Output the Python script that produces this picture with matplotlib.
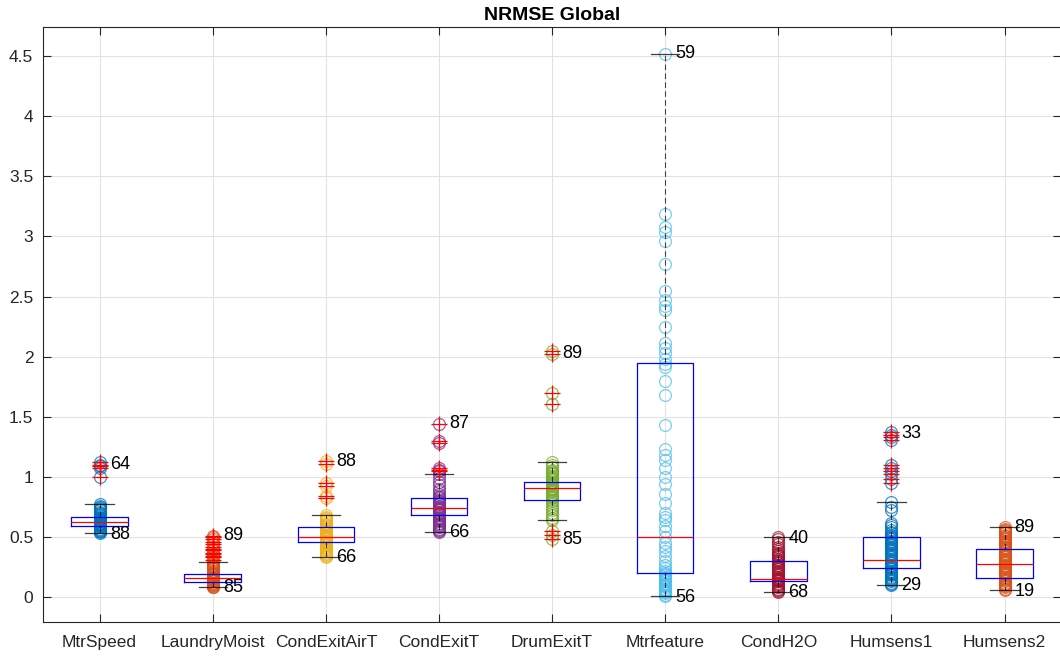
import numpy as np
import matplotlib
matplotlib.use("Agg")
import matplotlib.pyplot as plt

plt.rcParams.update({'font.family': 'Liberation Sans'})

# category names
categories = ["MtrSpeed", "LaundryMoist", "CondExitAirT", "CondExitT", "DrumExitT",
              "Mtrfeature", "CondH2O", "Humsens1", "Humsens2"]

# MATLAB default color order, one per category
point_colors = ["#0072BD", "#D95319", "#EDB120", "#7E2F8E", "#77AC30",
                "#4DBEEE", "#A2142F", "#0072BD", "#D95319"]

# NRMSE values per signal
mtr_speed = [0.53, 0.54, 0.55, 0.55, 0.56, 0.57, 0.58, 0.58, 0.59, 0.59, 0.60, 0.60,
             0.61, 0.61, 0.62, 0.62, 0.62, 0.63, 0.63, 0.63, 0.64, 0.64, 0.65, 0.65,
             0.66, 0.66, 0.67, 0.68, 0.69, 0.70, 0.71, 0.72, 0.73, 0.74, 0.75, 0.76,
             0.77, 1.00, 1.07, 1.09, 1.10, 1.12]
laundry_moist = [0.08, 0.08, 0.09, 0.10, 0.10, 0.11, 0.12, 0.12, 0.13, 0.13, 0.14, 0.14,
                 0.15, 0.15, 0.16, 0.16, 0.16, 0.17, 0.17, 0.18, 0.18, 0.19, 0.19, 0.20,
                 0.21, 0.22, 0.23, 0.24, 0.25, 0.26, 0.27, 0.28, 0.29, 0.31, 0.33, 0.34,
                 0.36, 0.37, 0.39, 0.40, 0.42, 0.44, 0.46, 0.48, 0.50, 0.51]
cond_exit_air = [0.33, 0.34, 0.35, 0.36, 0.37, 0.38, 0.39, 0.40, 0.41, 0.42, 0.43, 0.44,
                 0.45, 0.46, 0.46, 0.47, 0.47, 0.48, 0.48, 0.49, 0.49, 0.50, 0.50, 0.50,
                 0.51, 0.51, 0.52, 0.52, 0.53, 0.54, 0.55, 0.56, 0.57, 0.58, 0.59, 0.60,
                 0.61, 0.62, 0.63, 0.64, 0.65, 0.66, 0.67, 0.68, 0.82, 0.84, 0.92, 0.95,
                 1.11, 1.13]
cond_exit = [0.54, 0.55, 0.56, 0.57, 0.58, 0.59, 0.60, 0.61, 0.62, 0.63, 0.64, 0.65,
             0.66, 0.67, 0.68, 0.69, 0.70, 0.70, 0.71, 0.72, 0.73, 0.73, 0.74, 0.75,
             0.76, 0.77, 0.78, 0.79, 0.80, 0.81, 0.82, 0.83, 0.84, 0.86, 0.88, 0.90,
             0.93, 0.96, 0.99, 1.02, 1.05, 1.06, 1.07, 1.28, 1.30, 1.44]
drum_exit = [0.48, 0.52, 0.55, 0.64, 0.66, 0.68, 0.70, 0.72, 0.74, 0.76, 0.78, 0.80,
             0.81, 0.82, 0.83, 0.84, 0.85, 0.86, 0.87, 0.88, 0.89, 0.90, 0.90, 0.91,
             0.92, 0.93, 0.94, 0.95, 0.96, 0.97, 0.98, 0.99, 1.00, 1.01, 1.02, 1.03,
             1.04, 1.05, 1.06, 1.08, 1.10, 1.12, 1.61, 1.70, 2.02, 2.05]
mtr_feature = [0.01, 0.02, 0.03, 0.04, 0.05, 0.06, 0.07, 0.08, 0.09, 0.10, 0.11, 0.12,
               0.13, 0.14, 0.15, 0.16, 0.17, 0.18, 0.19, 0.20, 0.22, 0.24, 0.27, 0.30,
               0.34, 0.38, 0.42, 0.45, 0.50, 0.55, 0.59, 0.64, 0.67, 0.70, 0.78, 0.86,
               0.94, 1.00, 1.07, 1.14, 1.18, 1.23, 1.43, 1.68, 1.80, 1.91, 1.94, 1.98,
               2.03, 2.07, 2.11, 2.25, 2.39, 2.42, 2.47, 2.55, 2.77, 2.96, 3.04, 3.08,
               3.19, 4.52]
cond_h2o = [0.04, 0.05, 0.06, 0.07, 0.08, 0.09, 0.10, 0.11, 0.12, 0.13, 0.13, 0.14,
            0.14, 0.15, 0.15, 0.16, 0.17, 0.18, 0.19, 0.20, 0.21, 0.22, 0.23, 0.24,
            0.25, 0.26, 0.27, 0.28, 0.29, 0.30, 0.31, 0.32, 0.33, 0.34, 0.35, 0.36,
            0.37, 0.38, 0.40, 0.42, 0.44, 0.46, 0.48, 0.50]
humsens1 = [0.10, 0.11, 0.12, 0.13, 0.14, 0.15, 0.16, 0.17, 0.18, 0.19, 0.20, 0.21,
            0.22, 0.23, 0.24, 0.25, 0.26, 0.27, 0.28, 0.29, 0.30, 0.31, 0.32, 0.33,
            0.34, 0.35, 0.36, 0.37, 0.38, 0.39, 0.40, 0.41, 0.42, 0.43, 0.44, 0.45,
            0.46, 0.47, 0.48, 0.49, 0.50, 0.51, 0.52, 0.53, 0.54, 0.56, 0.58, 0.60,
            0.62, 0.72, 0.75, 0.79, 0.95, 0.98, 1.02, 1.05, 1.07, 1.10,
            1.31, 1.33, 1.35, 1.37]
humsens2 = [0.06, 0.07, 0.08, 0.09, 0.10, 0.11, 0.12, 0.13, 0.14, 0.15, 0.16, 0.17,
            0.18, 0.19, 0.20, 0.21, 0.22, 0.23, 0.24, 0.25, 0.26, 0.27, 0.28, 0.29,
            0.30, 0.31, 0.32, 0.33, 0.34, 0.35, 0.36, 0.37, 0.38, 0.39, 0.40, 0.41,
            0.42, 0.43, 0.44, 0.45, 0.46, 0.47, 0.48, 0.49, 0.50, 0.51, 0.52, 0.53,
            0.54, 0.55, 0.56, 0.57, 0.58]

series = [mtr_speed, laundry_moist, cond_exit_air, cond_exit, drum_exit,
          mtr_feature, cond_h2o, humsens1, humsens2]

# box statistics as drawn in the reference
q1 = [0.587, 0.127, 0.457, 0.680, 0.809, 0.201, 0.130, 0.238, 0.160]
medians = [0.626, 0.158, 0.500, 0.737, 0.906, 0.497, 0.152, 0.304, 0.279]
q3 = [0.665, 0.194, 0.584, 0.820, 0.956, 1.945, 0.299, 0.499, 0.399]
whisker_low = [0.53, 0.08, 0.33, 0.54, 0.64, 0.01, 0.04, 0.10, 0.06]
whisker_high = [0.77, 0.29, 0.68, 1.02, 1.12, 4.52, 0.50, 0.79, 0.58]

# run labels at the max / min points
top_labels = ["64", "89", "88", "87", "89", "59", "40", "33", "89"]
top_label_y = [1.10, 0.51, 1.13, 1.44, 2.03, 4.52, 0.49, 1.36, 0.58]
bottom_labels = ["88", "85", "66", "66", "85", "56", "68", "29", "19"]
bottom_label_y = [0.52, 0.08, 0.33, 0.54, 0.48, 0.00, 0.04, 0.10, 0.05]

fig = plt.figure(figsize=(10.6, 6.56), dpi=100, facecolor="white")
ax = fig.add_axes([0.0406, 0.0514, 0.9604, 0.907])

positions = np.arange(1, len(categories) + 1)

# data points as open circles
for pos, vals, col in zip(positions, series, point_colors):
    ax.plot([pos] * len(vals), vals, 'o', markersize=8.5, markerfacecolor='none',
            markeredgecolor=col, markeredgewidth=0.9, alpha=0.75, zorder=2)

stats = []
for i, vals in enumerate(series):
    v = np.array(vals)
    fl = v[(v < whisker_low[i] - 1e-9) | (v > whisker_high[i] + 1e-9)]
    stats.append(dict(med=medians[i], q1=q1[i], q3=q3[i],
                      whislo=whisker_low[i], whishi=whisker_high[i], fliers=fl))

ax.bxp(stats, positions=positions, widths=0.5, capwidths=0.25, showfliers=True,
       boxprops=dict(color='blue', linewidth=0.9),
       medianprops=dict(color='red', linewidth=0.9),
       whiskerprops=dict(color='black', linewidth=0.8, linestyle=(0, (5, 3)), alpha=0.7),
       capprops=dict(color='black', linewidth=0.9, alpha=0.75),
       flierprops=dict(marker='+', markersize=11, markeredgecolor='red',
                       markeredgewidth=0.9, linestyle='none'),
       manage_ticks=False)

for pos, t, y in zip(positions, top_labels, top_label_y):
    ax.text(pos + 0.09, y, t, ha='left', va='center', fontsize=13, color='black')
for pos, t, y in zip(positions, bottom_labels, bottom_label_y):
    ax.text(pos + 0.09, y, t, ha='left', va='center', fontsize=13, color='black')

ax.set_xlim(0.5, 9.5)
ax.set_ylim(-0.21, 4.74)
ax.set_xticks(positions)
ax.set_xticklabels(categories)
ax.set_yticks(np.arange(0, 4.51, 0.5))
ax.set_yticklabels(["0", "0.5", "1", "1.5", "2", "2.5", "3", "3.5", "4", "4.5"])
ax.tick_params(direction='in', length=6, width=0.8, colors='#262626',
               labelsize=12.5, top=True, right=True)
ax.tick_params(axis='x', pad=9)
ax.tick_params(axis='y', pad=7)
ax.grid(True, color='#e2e2e2', linewidth=0.8)
ax.set_axisbelow(True)
for s in ax.spines.values():
    s.set_color('#262626')
    s.set_linewidth(0.8)

ax.set_title("NRMSE Global", fontsize=14, fontweight='bold', pad=5)

plt.savefig("out.png", dpi=100, facecolor="white")
plt.close('all')
